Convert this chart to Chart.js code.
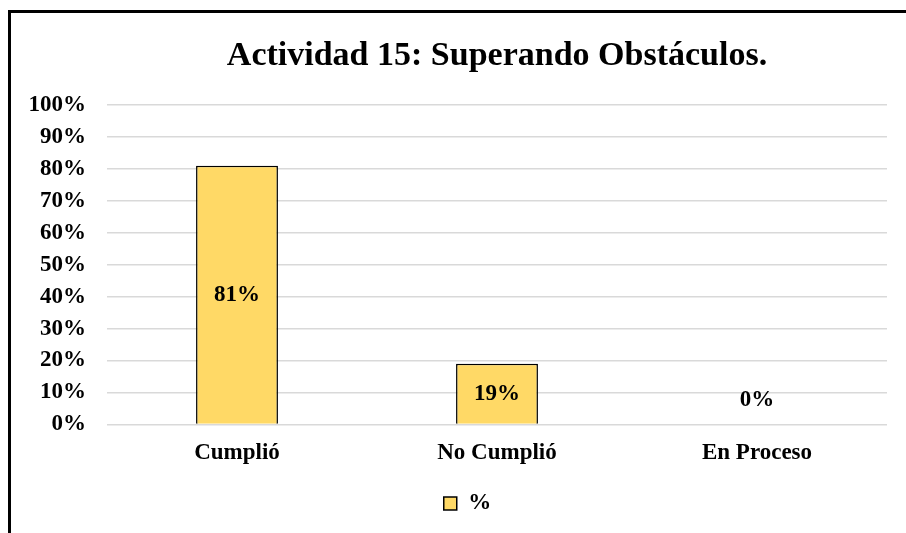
<!DOCTYPE html>
<html lang="es">
<head>
    <meta charset="UTF-8">
    <title>Actividad 15: Superando Obstáculos.</title>
    <script src="https://cdn.jsdelivr.net/npm/chart.js"></script>
    <style>
        body { margin: 0; background: #ffffff; }
        canvas { display: block; }
    </style>
</head>
<body>
    <canvas id="chart" width="906" height="533"></canvas>

    <script>
        // Datos
        const categories = ['Cumplió', 'No Cumplió', 'En Proceso'];
        const percentValues = [81, 19, 0];
        const seriesName = '%';
        const yTicks = [0, 10, 20, 30, 40, 50, 60, 70, 80, 90, 100];
        const chartTitle = 'Actividad 15: Superando Obstáculos.';

        const serif = '"Liberation Serif", "Times New Roman", serif';
        const barColor = '#FFD966';

        // Marco negro (arriba e izquierda) y título centrado sobre el área del gráfico
        const framePlugin = {
            id: 'frame',
            afterLayout(chart) {
                // the original legend sits a little right of the canvas centre
                chart.legend.left += 24;
                chart.legend.right += 24;
            },
            beforeDraw(chart) {
                const ctx = chart.ctx;
                ctx.save();
                ctx.fillStyle = '#ffffff';
                ctx.fillRect(0, 0, chart.width, chart.height);
                ctx.fillStyle = '#000000';
                ctx.fillRect(8, 10, chart.width - 8, 3);
                ctx.fillRect(8, 10, 3, chart.height - 10);
                const area = chart.chartArea;
                ctx.font = 'bold 34px ' + serif;
                ctx.textAlign = 'center';
                ctx.textBaseline = 'middle';
                ctx.fillText(chartTitle, (area.left + area.right) / 2, 56);
                ctx.restore();
            }
        };

        // Etiquetas de valor centradas en cada barra
        const valueLabels = {
            id: 'valueLabels',
            afterDatasetsDraw(chart) {
                const ctx = chart.ctx;
                const meta = chart.getDatasetMeta(0);
                ctx.save();
                ctx.font = 'bold 23px ' + serif;
                ctx.fillStyle = '#000000';
                ctx.textAlign = 'center';
                ctx.textBaseline = 'middle';
                meta.data.forEach((bar, i) => {
                    const v = percentValues[i];
                    const y = v === 0 ? bar.base - 24 : (bar.y + bar.base) / 2;
                    ctx.fillText(v + '%', bar.x, y);
                });
                ctx.restore();
            }
        };

        new Chart(document.getElementById('chart'), {
            type: 'bar',
            data: {
                labels: categories,
                datasets: [{
                    label: seriesName,
                    data: percentValues,
                    backgroundColor: barColor,
                    borderColor: '#000000',
                    borderWidth: 1.5,
                    categoryPercentage: 1,
                    barPercentage: 0.315
                }]
            },
            options: {
                responsive: false,
                animation: false,
                layout: { padding: { top: 105, right: 19, bottom: 8, left: 0 } },
                plugins: {
                    title: { display: false },
                    legend: {
                        position: 'bottom',
                        labels: {
                            color: '#000000',
                            font: { family: serif, size: 23, weight: 'bold' },
                            boxWidth: 13,
                            boxHeight: 13,
                            padding: 18
                        }
                    },
                    tooltip: { enabled: false }
                },
                scales: {
                    x: {
                        grid: { display: false },
                        border: { display: false },
                        ticks: {
                            color: '#000000',
                            font: { family: serif, size: 23, weight: 'bold' },
                            padding: 7
                        }
                    },
                    y: {
                        min: yTicks[0],
                        max: yTicks[yTicks.length - 1],
                        afterFit(scale) { scale.width = 107; },
                        afterBuildTicks(scale) {
                            scale.ticks = yTicks.map(v => ({ value: v }));
                        },
                        grid: { color: '#d9d9d9', lineWidth: 1.5, drawTicks: false },
                        border: { display: false },
                        ticks: {
                            color: '#000000',
                            font: { family: serif, size: 23, weight: 'bold' },
                            padding: 21,
                            callback: v => v + '%'
                        }
                    }
                }
            },
            plugins: [framePlugin, valueLabels]
        });
    </script>
</body>
</html>
